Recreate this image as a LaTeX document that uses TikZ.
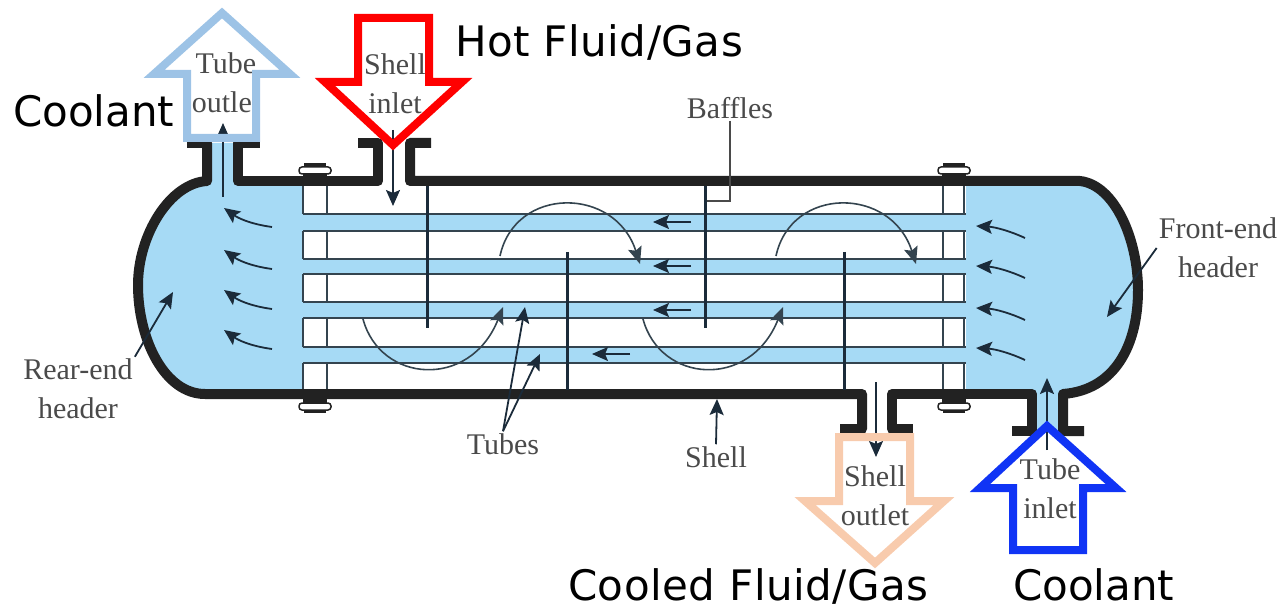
\documentclass[tikz,border=0pt]{standalone}
\usepackage{fontspec}
\setmainfont{Liberation Serif}
\newfontfamily\calloutfont{DejaVu Sans}
\newfontfamily\calloutwide[LetterSpace=1.2]{DejaVu Sans}
\usetikzlibrary{arrows.meta}
\definecolor{fluidblue}{HTML}{A6DAF5}
\definecolor{walldark}{HTML}{222222}
\definecolor{linedark}{HTML}{34444F}
\definecolor{inkdark}{HTML}{1B2B3A}
\definecolor{labelgray}{HTML}{4A4A4A}
\definecolor{outletblue}{HTML}{9DC3E6}
\definecolor{outletpeach}{HTML}{F8CBAD}
\definecolor{inletblue}{HTML}{1034F5}
\tikzset{
    shellwall/.style={draw=walldark, line width=10pt, line join=round},
    tubeline/.style={draw=linedark, line width=1.8pt},
    baffle/.style={draw=inkdark, line width=3pt},
    flow/.style={draw=inkdark, line width=1.8pt, -{Stealth[length=16pt,width=14pt,inset=3pt]}},
    swirl/.style={draw=linedark, line width=1.6pt, -{Stealth[length=17pt,width=14pt,inset=3pt]}},
    leader/.style={draw=labelgray, line width=1.6pt},
    partlabel/.style={text=labelgray, align=center, inner sep=2pt, font=\fontsize{30}{39}\selectfont},
    callout/.style={text=black, anchor=base west, inner sep=0pt, font=\calloutfont\fontsize{42}{48}\selectfont},
    calloutlong/.style={callout, font=\calloutwide\fontsize{42}{48}\selectfont},
    bigarrow/.style={line width=8pt, miter limit=10, fill=none},
}
\begin{document}
\begin{tikzpicture}[x=1pt, y=-1pt]
 \useasboundingbox (0,0) rectangle (1287,609);
 % fluid in the two headers
 \fill[fluidblue] (207,143) -- (207,181) .. controls (170,183) and (138,235) .. (138,285)
    .. controls (138,340) and (165,394) .. (205,394) -- (303,394) -- (303,181) -- (238,181) -- (238,143) -- cycle;
 \fill[fluidblue] (966,181) -- (1080,181) .. controls (1115,185) and (1138,240) .. (1138,290)
    .. controls (1138,345) and (1115,390) .. (1063,394) -- (1063,431) -- (1032,431) -- (1032,394) -- (966,394) -- cycle;
 % tubes and tube sheets
 \foreach \ya/\yb in {214/231,259/274,302/318,347/363} {
    \fill[fluidblue] (303,\ya) rectangle (966,\yb);
    \draw[tubeline] (303,\ya) -- (966,\ya);
    \draw[tubeline] (303,\yb) -- (966,\yb);
 }
 \foreach \sx in {303,327,943,964} {
    \foreach \ya/\yb in {186/214,231/259,274/302,318/347,363/390} {
       \draw[tubeline] (\sx,\ya) -- (\sx,\yb);
    }
 }
 % shell
 \draw[shellwall] (187,143) -- (207,143) -- (207,181) .. controls (170,183) and (138,235) .. (138,285)
    .. controls (138,340) and (165,394) .. (205,394) -- (862,394) -- (862,429) -- (840,429);
 \draw[shellwall] (913,429) -- (892,429) -- (892,394) -- (1032,394) -- (1032,431) -- (1012,431);
 \draw[shellwall] (1084,431) -- (1063,431) -- (1063,394) .. controls (1115,390) and (1138,345) .. (1138,290)
    .. controls (1138,240) and (1115,185) .. (1080,181) -- (410,181) -- (410,143) -- (431,143);
 \draw[shellwall] (358,143) -- (378,143) -- (378,181) -- (238,181) -- (238,143) -- (260,143);
 % bolts
 \foreach \bx in {315,954} {
    \fill[walldark] (\bx-12,173) rectangle (\bx+12,186);
    \fill[walldark] (\bx-12,390) rectangle (\bx+12,403);
    \draw[walldark, line width=1.5pt, fill=white, rounded corners=3pt] (\bx-16,167) rectangle (\bx+16,174);
    \fill[walldark] (\bx-11,163) rectangle (\bx+11,167);
    \draw[walldark, line width=1.5pt, fill=white, rounded corners=3pt] (\bx-16,403) rectangle (\bx+16,410);
    \fill[walldark] (\bx-11,410) rectangle (\bx+11,413);
 }
 % baffles
 \foreach \bx/\ya/\yb in {427/186/328,567/252/390,705/186/328,844/252/390} {
    \draw[baffle] (\bx,\ya) -- (\bx,\yb);
 }
 % flow inside
 \foreach \dx in {0,276} {
    \draw[swirl] (500+\dx,256) .. controls (515+\dx,186) and (615+\dx,186) .. (640+\dx,264);
 }
 \foreach \dx in {0,280} {
    \draw[swirl] (363+\dx,319) .. controls (380+\dx,383) and (470+\dx,390) .. (503+\dx,307);
 }
 \foreach \ax/\ay in {653/222,653/266,653/310,592/354} {
    \draw[flow] (\ax+38,\ay) -- (\ax,\ay);
 }
 \foreach \ay in {208,250,290,330} {
    \draw[flow] (272,\ay+19) .. controls (250,\ay+16) and (238,\ay+10) .. (224,\ay);
 }
 \foreach \ay in {226,266,308,348} {
    \draw[flow] (1025,\ay+12) .. controls (1010,\ay+5) and (995,\ay+1) .. (976,\ay);
 }
 \coordinate (tubeouttail) at (223,197);
 \coordinate (tubeouthead) at (223,123);
 \coordinate (shellintail) at (393,130);
 \coordinate (shellinhead) at (393,206);
 \coordinate (shellouttail) at (876,382);
 \coordinate (shelloutnhead) at (876,457);
 \coordinate (tubeintail) at (1047,450);
 \coordinate (tubeinhead) at (1047,378);
 \draw[flow] (tubeouttail) -- (tubeouthead);
 \draw[flow] (shellintail) -- (shellinhead);
 \draw[flow] (shellouttail) -- (shelloutnhead);
 \draw[flow] (tubeintail) -- (tubeinhead);
 % part labels
 \node[partlabel] (tubeout) at (226,83) {Tube\\outlet};
 \node[partlabel] (shellin) at (395,84) {Shell\\inlet};
 \node[partlabel] (bafflelbl) at (730,108) {Baffles};
 \node[partlabel] (rearhdr) at (78,389) {Rear-end\\header};
 \node[partlabel] (fronthdr) at (1218,248) {Front-end\\header};
 \node[partlabel] (tubeslbl) at (503,444) {Tubes};
 \node[partlabel] (shelllbl) at (716,457) {Shell};
 \node[partlabel] (shellout) at (875,496) {Shell\\outlet};
 \node[partlabel] (tubein) at (1050,489) {Tube\\inlet};
 % leaders
 \coordinate (bafflecorner) at (707,201);
 \coordinate (rearpoint) at (173,292);
 \coordinate (frontpoint) at (1107,317);
 \coordinate (tubepointa) at (525,307);
 \coordinate (tubepointb) at (540,354);
 \coordinate (shellpoint) at (717,399);
 \draw[leader] (bafflelbl.south) |- (bafflecorner);
 \draw[flow] (rearhdr.north east) -- (rearpoint);
 \draw[flow] (fronthdr.west) -- (frontpoint);
 \draw[flow] (tubeslbl.north) -- (tubepointa);
 \draw[flow] (tubeslbl.north) -- (tubepointb);
 \draw[flow] (shelllbl.north) -- (shellpoint);
 % coloured outline arrows
 \draw[bigarrow, draw=outletblue] (187,138) -- (187,74) -- (154,74) -- (222,13) -- (290,74) -- (256,74) -- (256,138) -- cycle;
 \draw[bigarrow, draw=red] (358,18) -- (358,82) -- (325,82) -- (393,145) -- (462,82) -- (429,82) -- (429,18) -- cycle;
 \draw[bigarrow, draw=outletpeach] (839,437) -- (839,501) -- (805,501) -- (875,563) -- (944,501) -- (910,501) -- (910,437) -- cycle;
 \draw[bigarrow, draw=inletblue] (1013,550) -- (1013,488) -- (980,488) -- (1047,426) -- (1116,488) -- (1083,488) -- (1083,550) -- cycle;
 % fluid names
 \node[calloutlong] (hotgas) at (455,57) {Hot Fluid/Gas};
 \node[callout] (coolantout) at (13,127) {Coolant};
 \node[calloutlong] (cooledgas) at (568,600) {Cooled Fluid/Gas};
 \node[callout] (coolantin) at (1013,600) {Coolant};
\end{tikzpicture}
\end{document}
